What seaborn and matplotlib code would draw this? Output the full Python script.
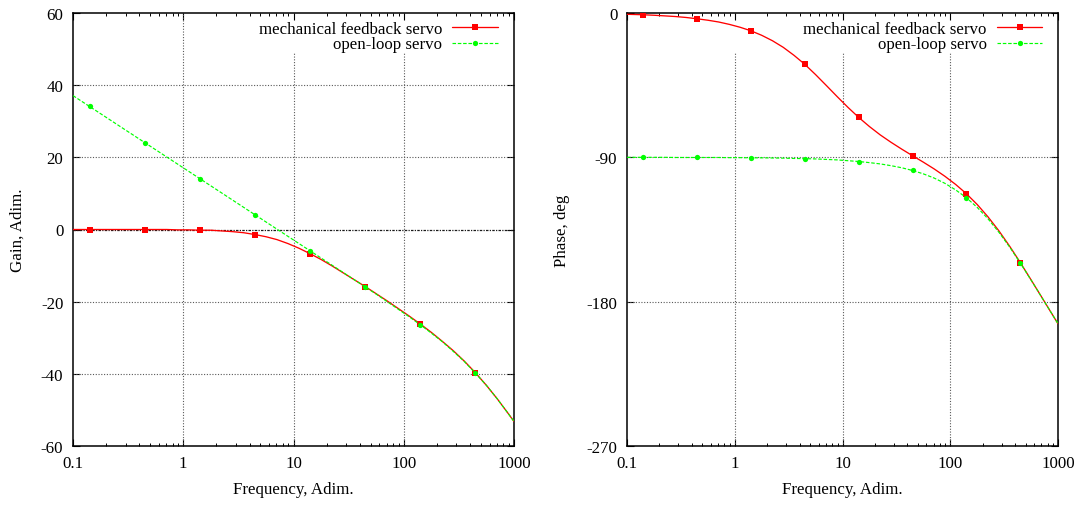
import matplotlib
matplotlib.use("Agg")
import matplotlib.pyplot as plt
from matplotlib.lines import Line2D
from matplotlib.ticker import FixedLocator, FixedFormatter, LogLocator, NullFormatter
import seaborn as sns

# Frequency samples (log-spaced) and the Bode response of both servos
freq = [0.1, 0.1122, 0.1413, 0.1778, 0.2239, 0.2818, 0.3548, 0.4467, 0.5623, 0.7079,
        0.8913, 1.122, 1.413, 1.778, 2.239, 2.818, 3.548, 4.467, 5.623, 7.079,
        8.913, 11.22, 14.13, 17.78, 22.39, 28.18, 35.48, 44.67, 56.23, 70.79,
        89.13, 112.2, 141.3, 177.8, 223.9, 281.8, 354.8, 446.7, 562.3, 707.9,
        891.3, 1000]

gain_feedback = [0.0, 0.0, 0.0, 0.0, 0.0, 0.0, 0.0, 0.0, 0.0, 0.0,
                 -0.1, -0.1, -0.2, -0.2, -0.4, -0.6, -0.9, -1.4, -2.0, -2.8,
                 -3.9, -5.2, -6.7, -8.3, -10.1, -12.0, -13.9, -15.8, -17.8, -19.8,
                 -21.9, -24.0, -26.2, -28.5, -31.0, -33.6, -36.5, -39.7, -43.2, -47.0,
                 -51.1, -53.2]

gain_open = [37.1, 36.1, 34.1, 32.1, 30.1, 28.1, 26.1, 24.1, 22.1, 20.1,
             18.1, 16.1, 14.1, 12.1, 10.1, 8.1, 6.1, 4.1, 2.1, 0.1,
             -1.9, -3.9, -5.9, -7.9, -9.9, -11.9, -13.9, -15.9, -17.9, -20.0,
             -22.1, -24.2, -26.4, -28.7, -31.1, -33.8, -36.6, -39.8, -43.2, -47.0,
             -51.1, -53.2]

phase_feedback = [-0.8, -0.9, -1.1, -1.4, -1.8, -2.2, -2.8, -3.6, -4.5, -5.6,
                  -7.1, -8.9, -11.1, -13.9, -17.3, -21.4, -26.4, -32.0, -38.4, -45.2,
                  -52.1, -58.8, -65.1, -70.8, -76.0, -80.6, -84.9, -89.0, -93.0, -97.2,
                  -101.8, -106.9, -112.7, -119.4, -127.1, -135.7, -145.3, -155.6, -166.4, -177.3,
                  -188.3, -193.8]

phase_open = [-90.0, -90.0, -90.0, -90.0, -90.0, -90.1, -90.1, -90.1, -90.1, -90.1,
              -90.2, -90.2, -90.3, -90.3, -90.4, -90.5, -90.7, -90.8, -91.0, -91.3,
              -91.6, -92.1, -92.6, -93.3, -94.1, -95.2, -96.5, -98.2, -100.3, -102.9,
              -106.2, -110.3, -115.2, -121.2, -128.3, -136.6, -145.8, -155.9, -166.5, -177.4,
              -188.3, -193.7]

labels = ["mechanical feedback servo", "open-loop servo"]
x_ticks = [0.1, 1, 10, 100, 1000]
x_tick_labels = ["0.1", "1", "10", "100", "1000"]
gain_ticks = [-60, -40, -20, 0, 20, 40, 60]
phase_ticks = [-270, -180, -90, 0]

RED = "#ff0000"
GREEN = "#00ff00"

sns.set_style("ticks")
plt.rcParams.update({
    "font.family": ["Liberation Serif", "DejaVu Serif"],
    "font.size": 12.2,
    "axes.unicode_minus": False,
    "axes.edgecolor": "black",
    "axes.labelcolor": "black",
    "text.color": "black",
    "xtick.color": "black",
    "ytick.color": "black",
    "axes.linewidth": 1.1,
    "xtick.direction": "in",
    "ytick.direction": "in",
    "xtick.top": True,
    "ytick.right": True,
    "xtick.major.size": 5,
    "ytick.major.size": 5,
    "xtick.minor.size": 2.5,
    "ytick.minor.size": 0,
    "xtick.major.width": 0.8,
    "ytick.major.width": 0.8,
    "xtick.minor.width": 0.7,
    "xtick.major.pad": 6.5,
    "ytick.major.pad": 7,
})

W, H = 1079, 506
fig = plt.figure(figsize=(W / 100, H / 100), dpi=100)
ax_gain = fig.add_axes([73 / W, 1 - 447 / H, (514 - 73) / W, 433 / H])
ax_phase = fig.add_axes([627 / W, 1 - 447 / H, (1058 - 627) / W, 433 / H])

grid_kw = dict(color="0.35", lw=0.8, ls=(0, (1, 1.5)), zorder=1)
red_kw = dict(color=RED, lw=0.95, marker="s", markersize=4.0, mec=RED, mew=0,
              markevery=(2, 5), zorder=3, legend=False)
green_kw = dict(color=GREEN, lw=0.85, ls=(0, (3, 1.5)), marker="o", markersize=3.8,
                mec=GREEN, mew=0, markevery=(2, 5), zorder=4, legend=False)


def style_axis(ax, yticks, ylim, ylabel, ylabel_x, full_grid_x):
    ax.set_xscale("log")
    ax.set_xlim(0.1, 1000)
    ax.set_ylim(*ylim)
    ax.xaxis.set_major_locator(FixedLocator(x_ticks))
    ax.xaxis.set_major_formatter(FixedFormatter(x_tick_labels))
    ax.xaxis.set_minor_locator(LogLocator(base=10, subs=range(2, 10)))
    ax.xaxis.set_minor_formatter(NullFormatter())
    ax.yaxis.set_major_locator(FixedLocator(yticks))
    ax.yaxis.set_major_formatter(FixedFormatter([str(t) for t in yticks]))
    for v in (1, 10, 100):
        top = 1.0 if v in full_grid_x else 0.91
        ax.axvline(v, ymin=0, ymax=top, **grid_kw)
    for t in yticks[1:-1]:
        if t == 0:
            ax.axhline(0, color="0.1", lw=0.9, ls=(0, (2, 1, 1, 1)), zorder=1)
        else:
            ax.axhline(t, **grid_kw)
    ax.set_xlabel("Frequency, Adim.")
    ax.xaxis.set_label_coords(0.5, (447 - 490) / 433)
    ax.xaxis.label.set_verticalalignment("center")
    ax.set_ylabel(ylabel)
    ax.yaxis.set_label_coords(ylabel_x, 0.5)
    ax.yaxis.label.set_verticalalignment("center")
    handles = [
        Line2D([], [], color=RED, lw=0.95, marker="s", markersize=4.0, mew=0),
        Line2D([], [], color=GREEN, lw=0.85, ls=(0, (3, 1.5)), marker="o", markersize=3.8, mew=0),
    ]
    ax.legend(handles, labels, loc="upper right", bbox_to_anchor=(0.964, 0.982),
              frameon=False, markerfirst=False, numpoints=1, handlelength=2.7,
              handletextpad=0.6, labelspacing=-0.02, borderpad=0, borderaxespad=0)


sns.lineplot(x=freq, y=gain_feedback, ax=ax_gain, **red_kw)
sns.lineplot(x=freq, y=gain_open, ax=ax_gain, **green_kw)
style_axis(ax_gain, gain_ticks, (-60, 60), "Gain, Adim.", (17.5 - 73) / 441, (1,))

sns.lineplot(x=freq, y=phase_feedback, ax=ax_phase, **red_kw)
sns.lineplot(x=freq, y=phase_open, ax=ax_phase, **green_kw)
style_axis(ax_phase, phase_ticks, (-270, 0), "Phase, deg", (562 - 627) / 431, ())

fig.savefig("out.png", dpi=100)
